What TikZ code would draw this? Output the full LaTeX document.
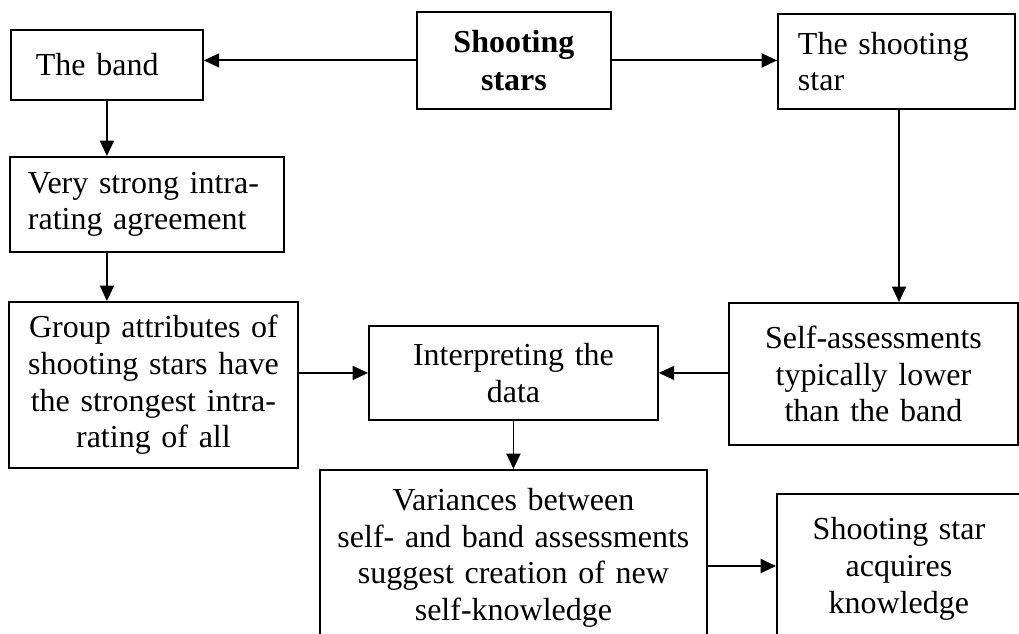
\documentclass[tikz,border=0pt]{standalone}
\usepackage{fontspec}
\setmainfont[WordSpace=0.85]{Liberation Serif}
\usetikzlibrary{arrows.meta}
\newcommand\pxu{0.75pt}
\begin{document}
\begin{tikzpicture}[x=0.75pt,y=-0.75pt,
  box/.style={draw, line width=1.4pt, anchor=north west, inner ysep=0pt,
    font=\fontsize{24}{27.5}\selectfont},
  arr/.style={line width=1.4pt, -{Triangle[length=11.5pt,width=10.5pt]}}]
\useasboundingbox (0,0) rectangle (1019,634);
\clip (0,0) rectangle (1019,634);

% boxes
\node[box, align=left, inner xsep=25*\pxu, text width=142*\pxu, minimum height=70*\pxu]
  (band) at (10,29) {The band};
\node[box, align=center, inner xsep=6*\pxu, text width=182*\pxu, minimum height=97*\pxu,
  font=\fontsize{24}{29}\selectfont\bfseries]
  (stars) at (416,11) {Shooting\\stars};
\node[box, align=left, inner xsep=20*\pxu, text width=197*\pxu, minimum height=95*\pxu]
  (shstar) at (777,13) {The shooting\\star};
\node[box, align=left, inner xsep=18*\pxu, text width=238*\pxu, minimum height=95*\pxu]
  (strong) at (9,156) {Very strong intra-\\rating agreement};
\node[box, align=center, inner xsep=6*\pxu, text width=277*\pxu, minimum height=166*\pxu]
  (group) at (8,301) {Group attributes of\\shooting stars have\\the strongest intra-\\rating of all};
\node[box, align=center, inner xsep=6*\pxu, text width=277*\pxu, minimum height=94*\pxu]
  (interp) at (368,325) {Interpreting the\\data};
\node[box, align=center, inner xsep=6*\pxu, text width=277*\pxu, minimum height=142*\pxu]
  (self) at (728,302) {Self-assessments\\typically lower\\than the band};
\node[box, align=center, inner xsep=6*\pxu, text width=375*\pxu, minimum height=176*\pxu]
  (var) at (319,469) {Variances between\\self- and band assessments\\suggest creation of new\\self-knowledge};
\node[box, align=center, inner xsep=6*\pxu, text width=232*\pxu, minimum height=150*\pxu]
  (acq) at (776,493) {Shooting star\\acquires\\knowledge};

% connectors
\coordinate (sx) at (899,0);
\coordinate (ay) at (0,566);
\draw[arr] (stars.west) -- (band.east |- stars.west);
\draw[arr] (stars.east) -- (shstar.west |- stars.east);
\draw[arr] (band.south) -- (strong.north -| band.south);
\draw[arr] (strong.south -| band.south) -- (group.north -| band.south);
\draw[arr] (shstar.south -| sx) -- (self.north -| sx);
\draw[arr] (group.east |- interp.west) -- (interp.west);
\draw[arr] (self.west |- interp.east) -- (interp.east);
\draw[arr] (interp.south) -- (var.north);
\draw[arr] (var.east |- ay) -- (acq.west |- ay);
\end{tikzpicture}
\end{document}
